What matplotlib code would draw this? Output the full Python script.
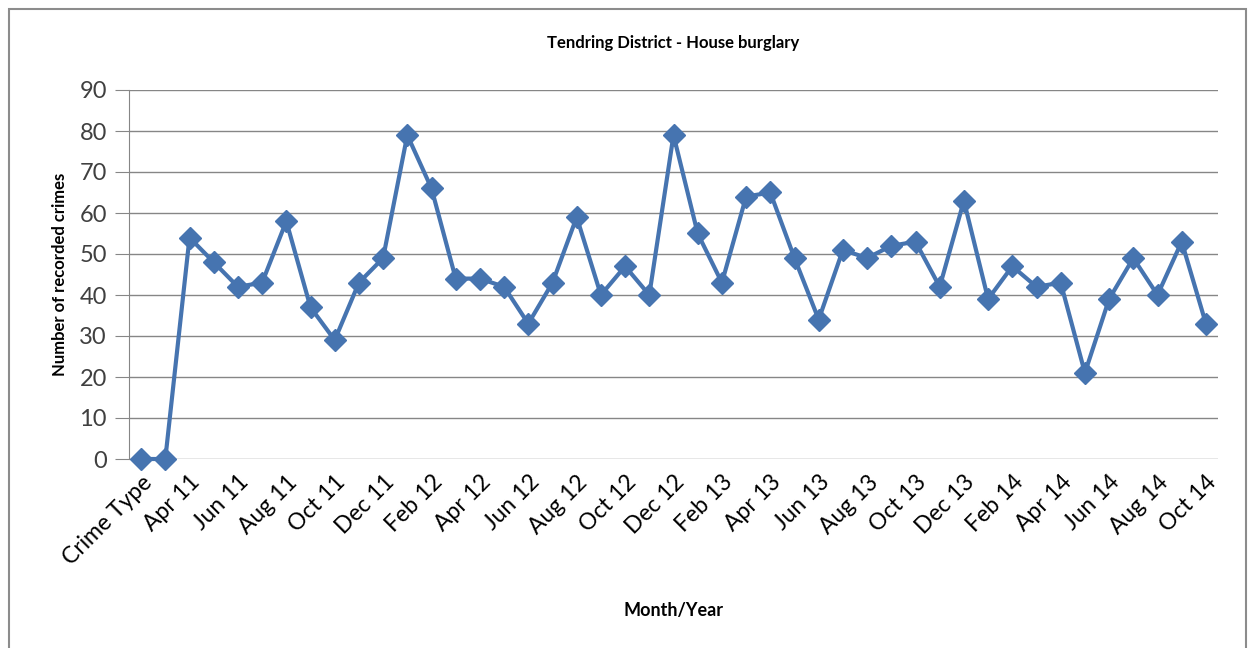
import matplotlib
matplotlib.use("Agg")
import matplotlib.pyplot as plt
from matplotlib.patches import Rectangle

months = ["Crime Type",
          "Mar 11", "Apr 11", "May 11", "Jun 11", "Jul 11", "Aug 11", "Sep 11", "Oct 11", "Nov 11", "Dec 11",
          "Jan 12", "Feb 12", "Mar 12", "Apr 12", "May 12", "Jun 12", "Jul 12", "Aug 12", "Sep 12", "Oct 12", "Nov 12", "Dec 12",
          "Jan 13", "Feb 13", "Mar 13", "Apr 13", "May 13", "Jun 13", "Jul 13", "Aug 13", "Sep 13", "Oct 13", "Nov 13", "Dec 13",
          "Jan 14", "Feb 14", "Mar 14", "Apr 14", "May 14", "Jun 14", "Jul 14", "Aug 14", "Sep 14", "Oct 14"]
burglaries = [0,
              0, 54, 48, 42, 43, 58, 37, 29, 43, 49,
              79, 66, 44, 44, 42, 33, 43, 59, 40, 47, 40, 79,
              55, 43, 64, 65, 49, 34, 51, 49, 52, 53, 42, 63,
              39, 47, 42, 43, 21, 39, 49, 40, 53, 33]
y_ticks = list(range(0, 100, 10))

font = ["Lato", "DejaVu Sans"]
plt.rcParams['font.family'] = font

fig = plt.figure(figsize=(12.52, 6.48), dpi=100)
fig.patches.append(Rectangle((9 / 1252, -0.01), 1237 / 1252, 1 - 9 / 648 + 0.01,
                             transform=fig.transFigure, fill=False,
                             edgecolor="#8c8c8c", linewidth=1.5))

ax = fig.add_axes([129 / 1252, 1 - 459 / 648, (1218 - 129) / 1252, (459 - 90) / 648])
x = list(range(len(months)))
ax.plot(x, burglaries, color="#4674B0", linewidth=3, marker="D",
        markersize=11, markerfacecolor="#4674B0", markeredgecolor="#4674B0",
        zorder=3, clip_on=False)

ax.set_xlim(-0.5, len(months) - 0.5)
ax.set_ylim(0, 90)
ax.set_yticks(y_ticks)
ax.tick_params(axis="y", labelsize=17, length=10, color="#868686", labelcolor="#404040", pad=6)
ax.yaxis.grid(True, color="#868686", linewidth=1)
ax.set_axisbelow(True)

ax.set_xticks(x[::2])
ax.set_xticklabels(months[::2], rotation=45, ha="right", rotation_mode="anchor")
ax.tick_params(axis="x", labelsize=16.5, length=0, pad=9)

for side in ["top", "right", "bottom"]:
    ax.spines[side].set_visible(False)
ax.spines["left"].set_color("#868686")

ax.set_title("Tendring District - House burglary", fontsize=12, fontweight="bold", pad=30)
ax.set_ylabel("Number of recorded crimes", fontsize=12, fontweight="bold", labelpad=8)
ax.set_xlabel("Month/Year", fontsize=13, fontweight="bold", labelpad=24)

fig.savefig("out.png", dpi=100)
